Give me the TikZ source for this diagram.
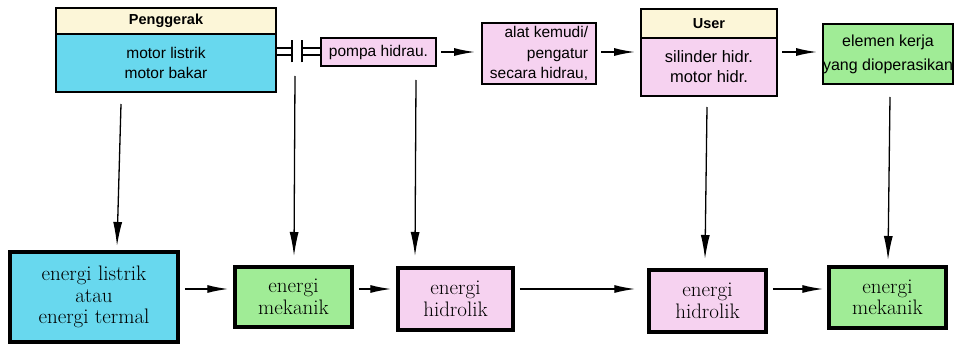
\documentclass[tikz,border=0pt]{standalone}
\usepackage{fontspec}
\setsansfont{Liberation Sans}
\usetikzlibrary{arrows.meta}
\definecolor{cyanbox}{RGB}{104,216,238}
\definecolor{creambox}{RGB}{252,246,216}
\definecolor{pinkbox}{RGB}{246,210,240}
\definecolor{greenbox}{RGB}{160,236,150}
\begin{document}
\begin{tikzpicture}[x=1pt,y=-1pt,
  topbox/.style={draw=black,line width=2pt,inner sep=0pt,align=center,
    font=\sffamily\fontsize{15.5}{20}\selectfont},
  botbox/.style={draw=black,line width=3.5pt,inner sep=0pt,align=center,
    font=\rmfamily\fontsize{21}{21.5}\selectfont},
  flow/.style={line width=1.4pt,-{Latex[length=21pt,width=8pt]}},
  vflow/.style={line width=1.3pt,-{Latex[length=24pt,width=9pt]}},
  bar/.style={line width=2.5pt}
]
\useasboundingbox (0,0) rectangle (956,345);
% top row
\node[topbox,fill=creambox,minimum width=220pt,minimum height=26pt,
  font=\sffamily\bfseries\fontsize{14.5}{16}\selectfont] (peng) at (166,21) {Penggerak};
\node[topbox,fill=cyanbox,minimum width=220pt,minimum height=58pt] (motor) at (166,63) {motor listrik\\motor bakar};
\node[topbox,fill=pinkbox,minimum width=115pt,minimum height=28pt,
  font=\sffamily\fontsize{15.5}{18}\selectfont] (pompa) at (378.5,52) {pompa hidrau.};
\node[topbox,fill=pinkbox,minimum width=114pt,minimum height=61pt,align=right,
  font=\sffamily\fontsize{15.5}{20.5}\selectfont] (alat) at (539,53.5) {alat kemudi/\\pengatur\\secara hidrau,};
\node[topbox,fill=creambox,minimum width=136pt,minimum height=29pt,
  font=\sffamily\bfseries\fontsize{14.5}{16}\selectfont] (user) at (709,23.5) {User};
\node[topbox,fill=pinkbox,minimum width=136pt,minimum height=58pt,
  font=\sffamily\fontsize{16.5}{20}\selectfont] (silinder) at (709,67) {silinder hidr.\\motor hidr.};
\node[topbox,fill=greenbox,minimum width=130pt,minimum height=60pt,
  font=\sffamily\fontsize{16}{24}\selectfont] (elemen) at (888,54) {elemen kerja\\yang dioperasikan};
% coupling
\coordinate (c1) at (292,51.5);
\coordinate (c2) at (302,51.5);
\draw[line width=1.5pt] ([yshift=-3.3pt]motor.east |- c1) -- ([yshift=-3.3pt]c1)
  ([yshift=3.3pt]motor.east |- c1) -- ([yshift=3.3pt]c1);
\draw[bar] ([yshift=-11pt]c1) -- ([yshift=11pt]c1);
\draw[bar] ([yshift=-11pt]c2) -- ([yshift=11pt]c2);
\draw[line width=1.5pt] ([yshift=-3.3pt]c2) -- ([yshift=-3.3pt]pompa.west |- c2)
  ([yshift=3.3pt]c2) -- ([yshift=3.3pt]pompa.west |- c2);
% top arrows
\draw[flow] ([xshift=4pt]pompa.east) -- ([xshift=-6pt]alat.west |- pompa.east);
\draw[flow] ([xshift=4pt]alat.east |- pompa.east) -- ([xshift=-5pt]silinder.west |- pompa.east);
\draw[flow] ([xshift=4pt]silinder.east |- pompa.east) -- ([xshift=-5pt]elemen.west |- pompa.east);
% bottom row
\node[botbox,fill=cyanbox,minimum width=168pt,minimum height=90pt] (L1) at (94,297) {energi listrik\\atau\\energi termal};
\node[botbox,fill=greenbox,minimum width=117pt,minimum height=60pt] (M1) at (293.5,297) {energi\\mekanik};
\node[botbox,fill=pinkbox,minimum width=115pt,minimum height=62pt] (H1) at (455.5,299) {energi\\hidrolik};
\node[botbox,fill=pinkbox,minimum width=117pt,minimum height=62pt] (H2) at (707.5,301) {energi\\hidrolik};
\node[botbox,fill=greenbox,minimum width=117pt,minimum height=61pt] (M2) at (887.5,297.5) {energi\\mekanik};
% bottom arrows
\coordinate (hy) at (0,289);
\draw[flow] ([xshift=5pt]L1.east |- hy) -- ([xshift=-5pt]M1.west |- hy);
\draw[flow] ([xshift=5pt]M1.east |- hy) -- ([xshift=-5pt]H1.west |- hy);
\draw[flow] ([xshift=5pt]H1.east |- hy) -- ([xshift=-12pt]H2.west |- hy);
\draw[flow] ([xshift=5pt]H2.east |- hy) -- ([xshift=-4pt]M2.west |- hy);
% vertical arrows
\coordinate (v1) at (121,104);
\coordinate (v1e) at (117,246);
\coordinate (v2) at (295,76);
\coordinate (v2e) at (294,256);
\coordinate (v3) at (416,80);
\coordinate (v3e) at (415,256);
\coordinate (v4) at (707,107);
\coordinate (v4e) at (705,259);
\coordinate (v5) at (890,97);
\coordinate (v5e) at (888,260);
\draw[vflow] (v1) -- (v1e);
\draw[vflow] (v2) -- (v2e);
\draw[vflow] (v3) -- (v3e);
\draw[vflow] (v4) -- (v4e);
\draw[vflow] (v5) -- (v5e);
\end{tikzpicture}
\end{document}
